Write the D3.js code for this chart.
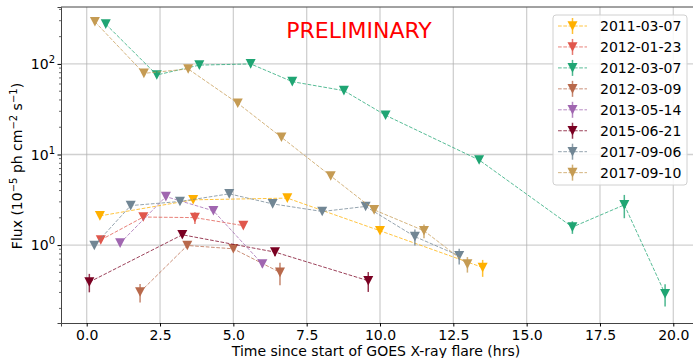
<!DOCTYPE html>
<html>
<head>
<meta charset="utf-8">
<script src="https://cdn.jsdelivr.net/npm/d3@7"></script>
<style>
  body { margin: 0; background: #fff; }
  text { font-family: "DejaVu Sans", sans-serif; }
</style>
</head>
<body>
<div id="canvas"></div>
<script>
const dates = ["2011-03-07", "2012-01-23", "2012-03-07", "2012-03-09",
               "2013-05-14", "2015-06-21", "2017-09-06", "2017-09-10"]
const colors = ["#ffb000", "#e0574c", "#1fa573", "#b8694b",
                "#a066b0", "#7a0022", "#718694", "#c59b53"]

// time since flare start (hrs), flux (1e-5 ph cm^-2 s^-1), flux error
const t110307 = [0.45, 3.63, 6.84, 10.0, 13.5]
const f110307 = [2.10, 3.16, 3.30, 1.44, 0.566]
const e110307 = [0.1, 0.15, 0.15, 0.1, 0.12]

const t120123 = [0.48, 1.93, 3.69, 5.34]
const f120123 = [1.14, 2.04, 2.01, 1.64]
const e120123 = [0.05, 0.1, 0.3, 0.1]

const t120307 = [0.65, 2.39, 3.84, 5.59, 7.01, 8.77, 10.19, 13.38, 16.56, 18.33, 19.72]
const f120307 = [275, 75.5, 97, 100, 63.7, 50.7, 27.1, 8.7, 1.58, 2.78, 0.29]
const e120307 = [5, 2, 2, 2, 1.5, 1.2, 0.8, 0.4, 0.25, 0.8, 0.08]

const t120309 = [1.82, 3.43, 5.0, 6.59]
const f120309 = [0.303, 0.99, 0.91, 0.50]
const e120309 = [0.07, 0.05, 0.05, 0.14]

const t130514 = [1.14, 2.70, 4.32, 5.99]
const f130514 = [1.05, 3.43, 2.39, 0.618]
const e130514 = [0.05, 0.15, 0.1, 0.05]

const t150621 = [0.09, 3.26, 6.42, 9.60]
const f150621 = [0.391, 1.30, 0.837, 0.404]
const e150621 = [0.09, 0.05, 0.08, 0.1]

const t170906 = [0.26, 1.50, 3.18, 4.86, 6.34, 8.03, 9.51, 11.19, 12.70]
const f170906 = [0.99, 2.73, 3.03, 3.68, 2.85, 2.35, 2.67, 1.24, 0.762]
const e170906 = [0.05, 0.1, 0.1, 0.15, 0.1, 0.1, 0.15, 0.25, 0.15]

const t170910 = [0.28, 1.95, 3.46, 5.15, 6.64, 8.32, 9.80, 11.50, 12.98]
const f170910 = [292, 78.7, 88, 36.8, 15.5, 5.8, 2.45, 1.44, 0.617]
const e170910 = [5, 2, 2, 1, 0.5, 0.2, 0.1, 0.25, 0.12]

const xTicks = [0, 2.5, 5, 7.5, 10, 12.5, 15, 17.5, 20]
const yTicks = [1, 10, 100]

const series = [
    [t110307, f110307, e110307], [t120123, f120123, e120123],
    [t120307, f120307, e120307], [t120309, f120309, e120309],
    [t130514, f130514, e130514], [t150621, f150621, e150621],
    [t170906, f170906, e170906], [t170910, f170910, e170910]
].map((s, i) => ({
    name: dates[i],
    color: colors[i],
    pts: s[0].map((t, j) => ({ t: t, f: s[1][j], e: s[2][j] }))
}))

const width = 693
const height = 358
const margin = { top: 7, left: 61, bottom: 35, right: -2 }
const iwidth = width - margin.left - margin.right
const iheight = height - margin.top - margin.bottom

const svg = d3.select("#canvas").append("svg")
    .attr("width", width)
    .attr("height", height)

const g = svg.append("g")
    .attr("transform", `translate(${margin.left}, ${margin.top})`)

const x = d3.scaleLinear()
    .domain([-0.876, 20.74])
    .range([0, iwidth])

const y = d3.scaleLog()
    .domain([0.138, 425])
    .range([iheight, 0])

g.append("defs").append("clipPath").attr("id", "clip")
    .append("rect").attr("width", iwidth).attr("height", iheight)

// grid
g.append("g").selectAll("line").data(xTicks).enter().append("line")
    .attr("x1", d => x(d)).attr("x2", d => x(d))
    .attr("y1", 0).attr("y2", iheight)
    .style("stroke", "#b0b0b0").style("stroke-opacity", 0.6).style("stroke-width", 1.3)
g.append("g").selectAll("line").data(yTicks).enter().append("line")
    .attr("x1", 0).attr("x2", iwidth)
    .attr("y1", d => y(d)).attr("y2", d => y(d))
    .style("stroke", "#b0b0b0").style("stroke-opacity", 0.6).style("stroke-width", 1.3)

// axes
const xAxis = g.append("g")
    .attr("transform", `translate(0, ${iheight})`)
    .call(d3.axisBottom(x).tickValues(xTicks).tickFormat(d3.format(".1f")).tickSizeOuter(0).tickSize(3.5).tickPadding(4))
xAxis.selectAll("text").style("font-size", "14px").style("fill", "#000")

const minor = []
for (let k = -1; k <= 2; k++) for (let m = 1; m <= 9; m++) {
    const v = m * Math.pow(10, k)
    if (v >= 0.138 && v <= 425 && m !== 1) minor.push(v)
}
const yAxis = g.append("g")
    .call(d3.axisLeft(y).tickValues(yTicks).tickFormat("").tickSizeOuter(0).tickSize(3.5))
g.append("g").selectAll("line").data(minor).enter().append("line")
    .attr("x1", -2).attr("x2", 0)
    .attr("y1", d => y(d)).attr("y2", d => y(d))
    .style("stroke", "#000").style("stroke-width", 0.6)

const ylab = g.append("g").selectAll("text").data(yTicks).enter().append("text")
    .attr("x", -6).attr("y", d => y(d) + 5)
    .attr("text-anchor", "end")
    .style("font-size", "14px")
ylab.append("tspan").text("10")
ylab.append("tspan").attr("dy", -6).style("font-size", "10px").text(d => Math.round(Math.log10(d)))

g.selectAll(".domain").style("stroke", "#444")
g.append("line").attr("x1", 0).attr("x2", iwidth).attr("y1", 0).attr("y2", 0)
    .style("stroke", "#444")

// series
const line = d3.line().x(d => x(d.t)).y(d => y(d.f))
const tri = "M-5,-4.8L5,-4.8L0,4.8Z"
const plot = g.append("g").attr("clip-path", "url(#clip)")
series.forEach(s => {
    const sg = plot.append("g")
    sg.append("path").datum(s.pts)
        .attr("d", line)
        .style("fill", "none").style("stroke", s.color)
        .style("stroke-width", 1).style("stroke-opacity", 0.75)
        .style("stroke-dasharray", "3.7,1.6")
    sg.selectAll("line").data(s.pts).enter().append("line")
        .attr("x1", d => x(d.t)).attr("x2", d => x(d.t))
        .attr("y1", d => y(d.f + d.e)).attr("y2", d => y(Math.max(d.f - d.e, 0.01)))
        .style("stroke", s.color).style("stroke-width", 1.5).style("stroke-opacity", 0.8)
    sg.selectAll("path.m").data(s.pts).enter().append("path")
        .attr("class", "m")
        .attr("d", tri)
        .attr("transform", d => `translate(${x(d.t)}, ${y(d.f)})`)
        .style("fill", s.color)
})

// preliminary stamp
svg.append("text")
    .attr("x", 359).attr("y", 37.5)
    .attr("text-anchor", "middle")
    .style("font-size", "22px").style("fill", "#ff0000")
    .text("PRELIMINARY")

// legend
const leg = svg.append("g").attr("transform", "translate(553, 15)")
leg.append("rect")
    .attr("width", 134).attr("height", 170).attr("rx", 3)
    .style("fill", "#fff").style("fill-opacity", 0.85)
    .style("stroke", "#d0d0d0").style("stroke-width", 1)
series.forEach((s, i) => {
    const row = leg.append("g").attr("transform", `translate(0, ${11 + i * 20.95})`)
    row.append("line").attr("x1", 5).attr("x2", 34)
        .style("stroke", s.color).style("stroke-opacity", 0.75)
        .style("stroke-dasharray", "3.7,1.6")
    row.append("line").attr("x1", 19.5).attr("x2", 19.5).attr("y1", -8).attr("y2", 8)
        .style("stroke", s.color).style("stroke-width", 1.5).style("stroke-opacity", 0.8)
    row.append("path").attr("d", tri).attr("transform", "translate(19.5, 0)")
        .style("fill", s.color)
    row.append("text").attr("x", 47).attr("y", 5)
        .style("font-size", "14px")
        .text(s.name)
})

// axis labels
svg.append("text")
    .attr("x", 376).attr("y", 356)
    .attr("text-anchor", "middle")
    .style("font-size", "14px")
    .text("Time since start of GOES X-ray flare (hrs)")

const yl = svg.append("text")
    .attr("transform", "translate(22, 166) rotate(-90)")
    .attr("text-anchor", "middle")
    .style("font-size", "14px")
yl.append("tspan").text("Flux (10")
yl.append("tspan").attr("dy", -5).style("font-size", "10px").text("\u22125")
yl.append("tspan").attr("dy", 5).text(" ph cm")
yl.append("tspan").attr("dy", -5).style("font-size", "10px").text("\u22122")
yl.append("tspan").attr("dy", 5).text(" s")
yl.append("tspan").attr("dy", -5).style("font-size", "10px").text("\u22121")
yl.append("tspan").attr("dy", 5).text(")")
</script>
</body>
</html>
